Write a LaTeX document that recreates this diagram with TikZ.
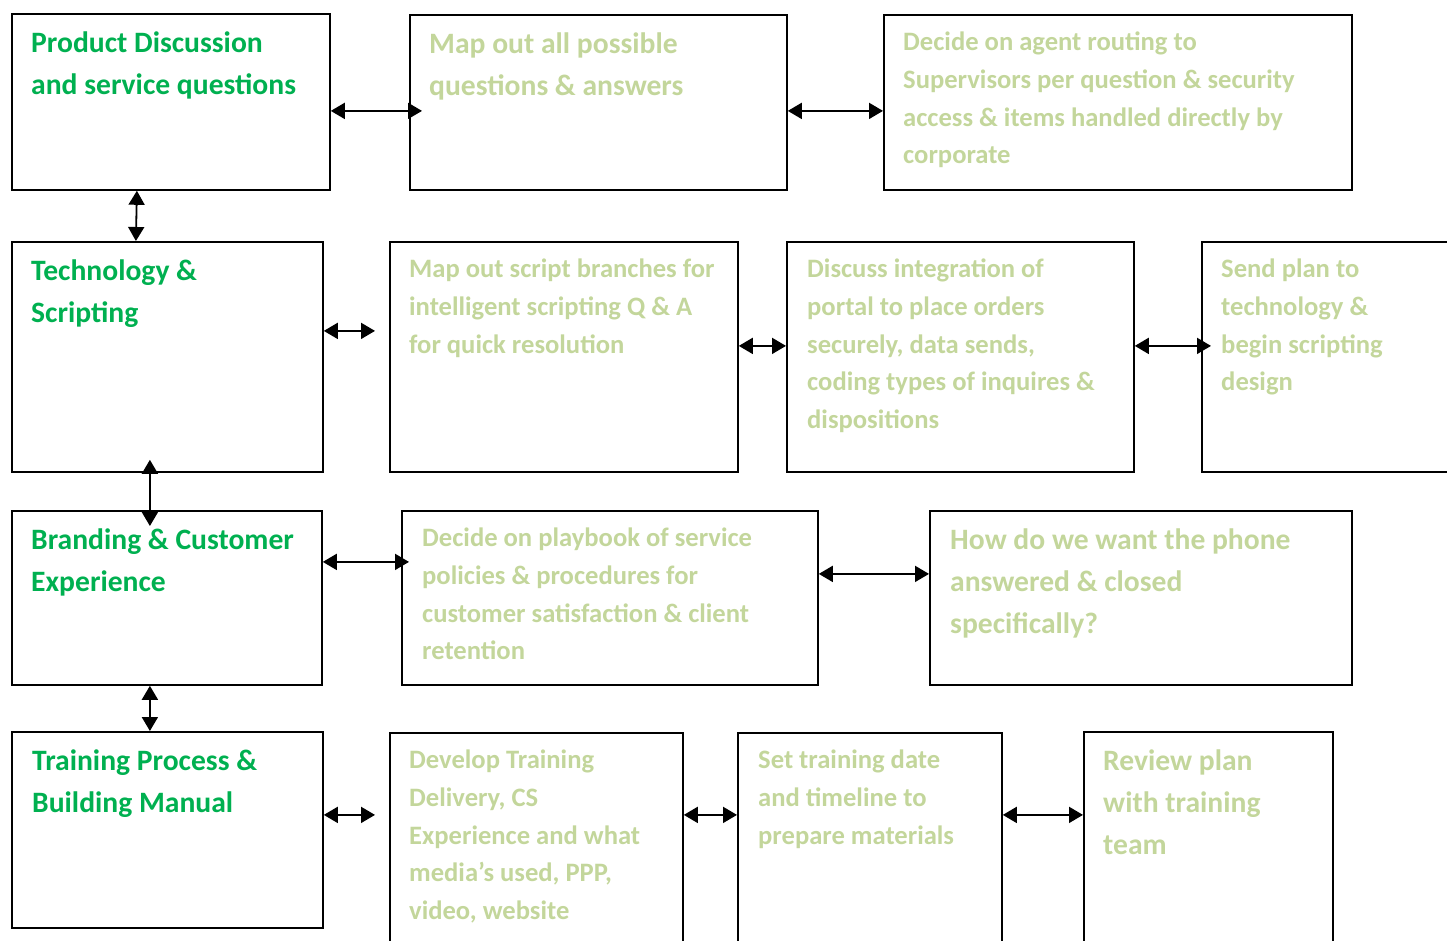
\documentclass[tikz,border=0pt]{standalone}
\usepackage{fontspec}
\setmainfont{Carlito}
\usetikzlibrary{arrows.meta,positioning}
\definecolor{headgreen}{HTML}{00B050}
\definecolor{stepgreen}{HTML}{C3D69B}
\tikzstyle{stage}=[draw=black,line width=1.8pt,rectangle,inner sep=0pt,anchor=north west]
\tikzstyle{bigtxt}=[inner sep=0pt,align=left,font=\fontsize{29.6}{42}\selectfont\bfseries]
\tikzstyle{smalltxt}=[inner sep=0pt,align=left,font=\fontsize{26.6}{37.6}\selectfont\bfseries]
\tikzstyle{link}=[{Triangle[length=14pt,width=16pt]}-{Triangle[length=14pt,width=16pt]},line width=1.8pt,draw=black]

\begin{document}
\begin{tikzpicture}[x=1pt,y=-1pt]
    \clip (0,0) rectangle (1447,940);

    % row 1
    \node[stage,minimum width=318pt,minimum height=176pt] (pd) at (11,13) {};
    \node[stage,minimum width=377pt,minimum height=175pt] (mo) at (409,14) {};
    \node[stage,minimum width=468pt,minimum height=175pt] (dr) at (883,14) {};
    \node[bigtxt,headgreen,below right=18.5pt and 20pt of pd.north west] (pdtxt) {Product Discussion\\and service questions};
    \node[bigtxt,stepgreen,below right=18.5pt and 20pt of mo.north west] (motxt) {Map out all possible\\questions \& answers};
    \node[smalltxt,stepgreen,below right=18pt and 20pt of dr.north west] (drtxt) {Decide on agent routing to\\Supervisors per question \& security\\access \& items handled directly by\\corporate};

    % row 2
    \node[stage,minimum width=311pt,minimum height=230pt] (ts) at (11,241) {};
    \node[stage,minimum width=348pt,minimum height=230pt] (sb) at (389,241) {};
    \node[stage,minimum width=347pt,minimum height=230pt] (di) at (786,241) {};
    \node[stage,minimum width=270pt,minimum height=230pt] (sp) at (1201,241) {};
    \node[bigtxt,headgreen,below right=18.5pt and 20pt of ts.north west] (tstxt) {Technology \&\\Scripting};
    \node[smalltxt,stepgreen,below right=18pt and 20pt of sb.north west] (sbtxt) {Map out script branches for\\intelligent scripting Q \& A\\for quick resolution};
    \node[smalltxt,stepgreen,below right=18pt and 21pt of di.north west] (ditxt) {Discuss integration of\\portal to place orders\\securely, data sends,\\coding types of inquires \&\\dispositions};
    \node[smalltxt,stepgreen,below right=18pt and 20pt of sp.north west] (sptxt) {Send plan to\\technology \&\\begin scripting\\design};

    % row 3
    \node[stage,minimum width=310pt,minimum height=174pt] (bc) at (11,510) {};
    \node[stage,minimum width=416pt,minimum height=174pt] (pb) at (401,510) {};
    \node[stage,minimum width=422pt,minimum height=174pt] (hp) at (929,510) {};
    \node[bigtxt,headgreen,below right=18.5pt and 20pt of bc.north west] (bctxt) {Branding \& Customer\\Experience};
    \node[smalltxt,stepgreen,below right=18pt and 21pt of pb.north west] (pbtxt) {Decide on playbook of service\\policies \& procedures for\\customer satisfaction \& client\\retention};
    \node[bigtxt,stepgreen,below right=18.5pt and 21pt of hp.north west] (hptxt) {How do we want the phone\\answered \& closed\\specifically?};

    % row 4
    \node[stage,minimum width=311pt,minimum height=196pt] (tp) at (11,731) {};
    \node[stage,minimum width=293pt,minimum height=230pt] (dt) at (389,732) {};
    \node[stage,minimum width=264pt,minimum height=230pt] (st) at (737,732) {};
    \node[stage,minimum width=249pt,minimum height=230pt] (rp) at (1083,731) {};
    \node[bigtxt,headgreen,below right=18.5pt and 21pt of tp.north west] (tptxt) {Training Process \&\\Building Manual};
    \node[smalltxt,stepgreen,below right=18pt and 20pt of dt.north west] (dttxt) {Develop Training\\Delivery, CS\\Experience and what\\media’s used, PPP,\\video, website};
    \node[smalltxt,stepgreen,below right=18pt and 21pt of st.north west] (sttxt) {Set training date\\and timeline to\\prepare materials};
    \node[bigtxt,stepgreen,below right=18.5pt and 20pt of rp.north west] (rptxt) {Review plan\\with training\\team};

    % links
    \draw[link] ([yshift=-9pt]pd.east) -- ([xshift=13pt,yshift=-8.5pt]mo.west);
    \draw[link] ([yshift=-8.5pt]mo.east) -- ([yshift=-8.5pt]dr.west);
    \draw[link] ([xshift=-34pt]pd.south) -- ([xshift=-31.5pt]ts.north);
    \draw[link] ([yshift=26pt]ts.east) -- ([xshift=-14pt,yshift=26pt]sb.west);
    \draw[link] ([yshift=11pt]sb.east) -- ([yshift=11pt]di.west);
    \draw[link] ([yshift=11pt]di.east) -- ([xshift=10pt,yshift=11pt]sp.west);
    \draw[link] ([xshift=-17.5pt,yshift=13pt]ts.south) -- ([xshift=-17pt,yshift=-16pt]bc.north);
    \draw[link] ([yshift=36pt]bc.east) -- ([xshift=8pt,yshift=36pt]pb.west);
    \draw[link] ([yshift=24pt]pb.east) -- ([yshift=24pt]hp.west);
    \draw[link] ([xshift=-17pt]bc.south) -- ([xshift=-17.5pt]tp.north);
    \draw[link] ([yshift=15pt]tp.east) -- ([xshift=-14pt,yshift=33pt]dt.west);
    \draw[link] ([yshift=33pt]dt.east) -- ([yshift=33pt]st.west);
    \draw[link] ([yshift=33pt]st.east) -- ([yshift=32pt]rp.west);
\end{tikzpicture}
\end{document}
